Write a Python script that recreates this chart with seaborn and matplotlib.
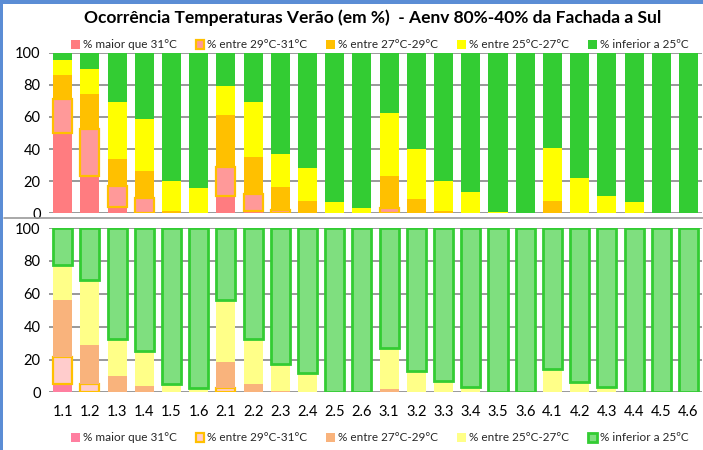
import matplotlib
matplotlib.use("Agg")
import matplotlib.pyplot as plt
from matplotlib.patches import Patch, Rectangle
from matplotlib.lines import Line2D
import seaborn as sns
import pandas as pd
import numpy as np

labels = ['1.1', '1.2', '1.3', '1.4', '1.5', '1.6', '2.1', '2.2', '2.3', '2.4', '2.5', '2.6',
          '3.1', '3.2', '3.3', '3.4', '3.5', '3.6', '4.1', '4.2', '4.3', '4.4', '4.5', '4.6']

series_names = ['% maior que 31°C', '% entre 29°C-31°C', '% entre 27°C-29°C',
                '% entre 25°C-27°C', '% inferior a 25ºC']

# top panel
top_red = [50, 23, 4, 0, 0, 0, 11, 1.5, 0, 0, 0, 0, 0, 0, 0, 0, 0, 0, 0, 0, 0, 0, 0, 0]
top_pink = [21, 29.5, 13, 9.7, 0, 0, 18, 10.3, 2, 0, 0, 0, 3.5, 0, 0, 0, 0, 0, 0, 0, 0, 0, 0, 0]
top_orange = [15, 22, 16.6, 16.6, 1.6, 0, 32, 23.4, 14.6, 7.7, 0, 0, 20, 8.9, 1.6, 0, 0, 0, 7.7, 0, 0, 0, 0, 0]
top_yellow = [9.2, 15.6, 35.7, 32.2, 18.5, 15.6, 18.1, 34.3, 20.1, 20.7, 7.2, 3.6,
              39.2, 30.9, 18.7, 13.1, 1, 0, 32.7, 22.2, 10.8, 6.8, 0, 0]

# bottom panel
bot_red = [5.1, 0, 0, 0, 0, 0, 0, 0, 0, 0, 0, 0, 0, 0, 0, 0, 0, 0, 0, 0, 0, 0, 0, 0]
bot_pink = [16.7, 5.1, 0, 0, 0, 0, 2.5, 0, 0, 0, 0, 0, 0, 0, 0, 0, 0, 0, 0, 0, 0, 0, 0, 0]
bot_orange = [34.7, 23.7, 10.2, 3.9, 0, 0, 16.1, 5.1, 1, 0, 0, 0, 1.8, 0, 0, 0, 0, 0, 0, 0, 0, 0, 0, 0]
bot_yellow = [21.3, 39.4, 22.4, 21.4, 5.1, 2.5, 37.9, 27.5, 16.4, 11.6, 0, 0,
              25.1, 13.3, 7.1, 3.5, 0, 0, 14.1, 6.5, 3.5, 0.5, 0, 0]

def complete(layers):
    s = np.sum(np.array(layers, dtype=float), axis=0)
    return list(100 - s)

top_green = complete([top_red, top_pink, top_orange, top_yellow])
bot_green = complete([bot_red, bot_pink, bot_orange, bot_yellow])

top_styles = [
    dict(facecolor='#FF7C80', edgecolor='none', lw=0),
    dict(facecolor='#FF9999', edgecolor='#FFC000', lw=1.6),
    dict(facecolor='#FFC000', edgecolor='none', lw=0),
    dict(facecolor='#FFFF00', edgecolor='none', lw=0),
    dict(facecolor='#33CC33', edgecolor='none', lw=0),
]
bot_styles = [
    dict(facecolor='#FF7FA0', edgecolor='none', lw=0),
    dict(facecolor='#FFCCCC', edgecolor='#FFC000', lw=1.6),
    dict(facecolor='#F9B37C', edgecolor='none', lw=0),
    dict(facecolor='#FFFF88', edgecolor='none', lw=0),
    dict(facecolor='#7FDF7F', edgecolor='#33CC33', lw=2.0),
]

sns.set_theme(style='white')
FONT = ['Lato', 'DejaVu Sans']
plt.rcParams['font.family'] = FONT

fig = plt.figure(figsize=(7.03, 4.5), dpi=100)
ax_top = fig.add_axes([0.0697, 0.526, 0.929, 0.357])
ax_bot = fig.add_axes([0.0697, 0.128, 0.929, 0.365])


def draw(ax, layers, styles):
    bottom = np.zeros(len(labels))
    for vals, st in zip(layers, styles):
        df = pd.DataFrame({'cat': labels, 'val': vals})
        n_before = len(ax.patches)
        sns.barplot(data=df, x='cat', y='val', order=labels, ax=ax, color=st['facecolor'],
                    saturation=1, width=0.7, errorbar=None, bottom=bottom,
                    edgecolor=st['edgecolor'], linewidth=st['lw'])
        for p, v in zip(ax.patches[n_before:], vals):
            p.set_facecolor(st['facecolor'])
            if v <= 0:
                p.set_visible(False)
        bottom = bottom + np.array(vals, dtype=float)
    ax.set_xlim(-0.5, len(labels) - 0.5)
    ax.set_ylim(0, 100)
    ax.set_yticks([0, 20, 40, 60, 80, 100])
    ax.yaxis.grid(True, color='#878787', linewidth=1.2)
    ax.set_axisbelow(True)
    for s in ax.spines.values():
        s.set_visible(False)
    ax.set_xlabel('')
    ax.set_ylabel('')
    ax.tick_params(axis='y', labelsize=10.5, pad=6, length=0, labelcolor='#000000')
    ax.tick_params(axis='x', labelsize=10.5, pad=9, length=0, labelcolor='#000000')


draw(ax_top, [top_red, top_pink, top_orange, top_yellow, top_green], top_styles)
draw(ax_bot, [bot_red, bot_pink, bot_orange, bot_yellow, bot_green], bot_styles)
ax_top.set_xticklabels([])

fig.text(0.53, 0.96, 'Ocorrência Temperaturas Verão (em %)  - Aenv 80%-40% da Fachada a Sul',
         ha='center', va='center', fontsize=12.5, fontweight='bold', color='#000000')


def legend(styles, y):
    handles = [Patch(facecolor=st['facecolor'], edgecolor=st['edgecolor'],
                     linewidth=st['lw']) for st in styles]
    fig.legend(handles, series_names, loc='center', bbox_to_anchor=(0.54, y), ncol=5,
               frameon=False, fontsize=8.5, handlelength=0.75, handleheight=0.75,
               handletextpad=0.25, columnspacing=1.6, borderaxespad=0)


legend(top_styles, 0.9)
legend(bot_styles, 0.027)

# separator lines between the panels
fig.add_artist(Line2D([0.005, 1.0], [1 - 218.5 / 450] * 2, color='#9A9A9A', lw=1.2))

# blue frame (top and left)
fig.add_artist(Rectangle((0, 1 - 4 / 450), 1, 4 / 450, transform=fig.transFigure,
                         facecolor='#5B8DD5', edgecolor='none'))
fig.add_artist(Rectangle((0, 0), 3 / 703, 1, transform=fig.transFigure,
                         facecolor='#5B8DD5', edgecolor='none'))

fig.savefig('out.png', dpi=100)
